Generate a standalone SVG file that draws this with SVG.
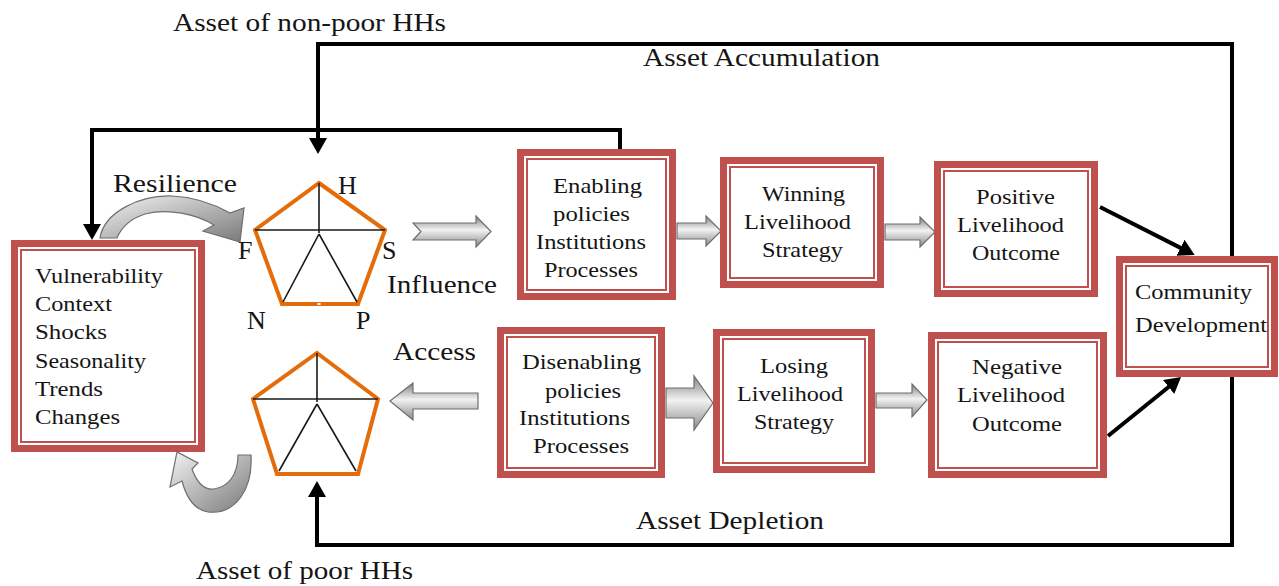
<svg xmlns="http://www.w3.org/2000/svg" width="1279" height="586" viewBox="0 0 1279 586">
  <style>
    .t { font-family: "Liberation Serif", "Times New Roman", serif; font-size: 22px; fill: #151515; }
    .big { font-family: "Liberation Serif", "Times New Roman", serif; font-size: 26px; fill: #151515; }
    .band { fill: #ffffff; stroke: #c0504d; stroke-width: 7; }
    .thin { fill: none; stroke: #c0504d; stroke-width: 2; }
    .penta { fill: #ffffff; stroke: #e46c0a; stroke-width: 4; stroke-linejoin: miter; }
    .spoke { fill: none; stroke: #1a1a1a; stroke-width: 1.6; }
    .blk { fill: url(#gv); stroke: #6e6e6e; stroke-width: 1.2; stroke-linejoin: miter; }
    .crv { fill: url(#gc); stroke: #6e6e6e; stroke-width: 1.2; stroke-linejoin: miter; }
    .wire { fill: none; stroke: #000000; stroke-width: 4; stroke-linejoin: miter; }
  </style>
  <defs>
    <linearGradient id="gv" x1="0" y1="0" x2="0" y2="1">
      <stop offset="0" stop-color="#808080"/>
      <stop offset="0.45" stop-color="#f2f2f2"/>
      <stop offset="1" stop-color="#8a8a8a"/>
    </linearGradient>
    <linearGradient id="gc" x1="0" y1="0" x2="1" y2="1">
      <stop offset="0" stop-color="#f4f4f4"/>
      <stop offset="0.55" stop-color="#b0b0b0"/>
      <stop offset="1" stop-color="#7a7a7a"/>
    </linearGradient>
    <marker id="ah" viewBox="0 0 16 18" markerWidth="16" markerHeight="18" refX="4" refY="9" orient="auto" markerUnits="userSpaceOnUse">
      <path d="M0,0 L16,9 L0,18 z" fill="#000000"/>
    </marker>
  </defs>

  <rect width="1279" height="586" fill="#ffffff"/>

  <!-- black feedback connectors -->
  <g id="connectors">
    <path class="wire" d="M620,151 V130 H92 V228" marker-end="url(#ah)"/>
    <path class="wire" d="M1232,60 V44 H318 V142" marker-end="url(#ah)"/>
    <path class="wire" d="M1232,50 V545 H317 V493" marker-end="url(#ah)"/>
    <path class="wire" d="M1100,207 L1184,249.6" marker-end="url(#ah)"/>
    <path class="wire" d="M1108,436 L1171.7,384.5" marker-end="url(#ah)"/>
  </g>

  <!-- grey block arrows -->
  <g id="block-arrows">
    <polygon class="blk" points="413,223 476,223 476,216 491,231.5 476,247 476,240 413,240 421,231.5"/>
    <polygon class="blk" points="677,223 706,223 706,216 721,231 706,246 706,239 677,239"/>
    <polygon class="blk" points="885,224 920,224 920,217 935,232 920,247 920,240 885,240"/>
    <polygon class="blk" points="478,393 413,393 413,383 390,401 413,420 413,409 478,409"/>
    <polygon class="blk" points="666,388 694,388 694,376 713,403 694,430 694,418 666,418"/>
    <polygon class="blk" points="876,393 912,393 912,384 927,400 912,417 912,408 876,408"/>
  </g>

  <!-- curved arrows -->
  <g id="resilience-arrow">
    <path class="crv" d="M100,238 C104,212 140,195 172,196 C195,197 214,204 230,213 L244,208 L240,242 L203,231 L214,225 C196,214 168,208 145,214 C130,219 121,228 117,238 Z"/>
  </g>
  <g id="recovery-arrow">
    <path class="crv" d="M238,455 L251,455 C253,490 235,515 208,512 C196,510 187,500 182,481 L170,487 L177,452 L198,463 L192,469 C197,483 205,490 214,489 C228,487 238,475 238,455 Z"/>
  </g>

  <!-- vulnerability context -->
  <g id="vulnerability">
    <rect class="band" x="14.5" y="243.5" width="187" height="205"/>
    <rect class="thin" x="21" y="250" width="174" height="192"/>
    <text class="t" x="35" y="283" textLength="128" lengthAdjust="spacingAndGlyphs">Vulnerability</text>
    <text class="t" x="35" y="311" textLength="77" lengthAdjust="spacingAndGlyphs">Context</text>
    <text class="t" x="35" y="339" textLength="72" lengthAdjust="spacingAndGlyphs">Shocks</text>
    <text class="t" x="35" y="368" textLength="111" lengthAdjust="spacingAndGlyphs">Seasonality</text>
    <text class="t" x="35" y="396" textLength="68" lengthAdjust="spacingAndGlyphs">Trends</text>
    <text class="t" x="35" y="424" textLength="85" lengthAdjust="spacingAndGlyphs">Changes</text>
  </g>

  <!-- asset pentagon of non-poor households -->
  <g id="assets-nonpoor">
    <polygon class="penta" points="319,183 385,230 358,304 282,304 255,230"/>
    <path class="spoke" d="M319,183 V233 M255,230 H385 M319,234 L283,302 M319,234 L357,302"/>
    <rect x="317.5" y="303" width="3" height="2" fill="#ffffff"/>
    <text class="big" x="338" y="194">H</text>
    <text class="big" x="238" y="259">F</text>
    <text class="big" x="382" y="259">S</text>
    <text class="big" x="247" y="329">N</text>
    <text class="big" x="356" y="329">P</text>
  </g>

  <!-- asset pentagon of poor households -->
  <g id="assets-poor">
    <polygon class="penta" points="317,353 378,399 358,474 277,474 253,399"/>
    <path class="spoke" d="M317,353 V402 M253,399 H378 M317,404 L279,471 M317,404 L356,471"/>
  </g>

  <g id="enabling">
    <rect class="band" x="520.5" y="152.5" width="152" height="144"/>
    <rect class="thin" x="527" y="159" width="139" height="131"/>
    <text class="t" x="553" y="193" textLength="89" lengthAdjust="spacingAndGlyphs">Enabling</text>
    <text class="t" x="553" y="221" textLength="77" lengthAdjust="spacingAndGlyphs">policies</text>
    <text class="t" x="536" y="249" textLength="110" lengthAdjust="spacingAndGlyphs">Institutions</text>
    <text class="t" x="544" y="277" textLength="94" lengthAdjust="spacingAndGlyphs">Processes</text>
  </g>

  <g id="winning">
    <rect class="band" x="723.5" y="160.5" width="157" height="124"/>
    <rect class="thin" x="730" y="167" width="144" height="111"/>
    <text class="t" x="762" y="201" textLength="83" lengthAdjust="spacingAndGlyphs">Winning</text>
    <text class="t" x="744" y="229" textLength="107" lengthAdjust="spacingAndGlyphs">Livelihood</text>
    <text class="t" x="762" y="257" textLength="81" lengthAdjust="spacingAndGlyphs">Strategy</text>
  </g>

  <g id="positive">
    <rect class="band" x="937.5" y="164.5" width="157" height="129"/>
    <rect class="thin" x="944" y="171" width="144" height="116"/>
    <text class="t" x="976" y="204" textLength="79" lengthAdjust="spacingAndGlyphs">Positive</text>
    <text class="t" x="957" y="232" textLength="107" lengthAdjust="spacingAndGlyphs">Livelihood</text>
    <text class="t" x="972" y="260" textLength="88" lengthAdjust="spacingAndGlyphs">Outcome</text>
  </g>

  <g id="community">
    <rect class="band" x="1119.5" y="259.5" width="155" height="114"/>
    <rect class="thin" x="1126" y="266" width="142" height="101"/>
    <text class="t" x="1135" y="299" textLength="117" lengthAdjust="spacingAndGlyphs">Community</text>
    <text class="t" x="1135" y="332" textLength="132" lengthAdjust="spacingAndGlyphs">Development</text>
  </g>

  <g id="disenabling">
    <rect class="band" x="500.5" y="330.5" width="161" height="144"/>
    <rect class="thin" x="507" y="337" width="148" height="131"/>
    <text class="t" x="522" y="369" textLength="119" lengthAdjust="spacingAndGlyphs">Disenabling</text>
    <text class="t" x="545" y="398" textLength="76" lengthAdjust="spacingAndGlyphs">policies</text>
    <text class="t" x="519" y="425" textLength="111" lengthAdjust="spacingAndGlyphs">Institutions</text>
    <text class="t" x="533" y="453" textLength="96" lengthAdjust="spacingAndGlyphs">Processes</text>
  </g>

  <g id="losing">
    <rect class="band" x="716.5" y="332.5" width="155" height="137"/>
    <rect class="thin" x="723" y="339" width="142" height="124"/>
    <text class="t" x="760" y="373" textLength="68" lengthAdjust="spacingAndGlyphs">Losing</text>
    <text class="t" x="737" y="401" textLength="106" lengthAdjust="spacingAndGlyphs">Livelihood</text>
    <text class="t" x="754" y="429" textLength="80" lengthAdjust="spacingAndGlyphs">Strategy</text>
  </g>

  <g id="negative">
    <rect class="band" x="931.5" y="335.5" width="172" height="139"/>
    <rect class="thin" x="938" y="342" width="159" height="126"/>
    <text class="t" x="972" y="374" textLength="90" lengthAdjust="spacingAndGlyphs">Negative</text>
    <text class="t" x="957" y="402" textLength="108" lengthAdjust="spacingAndGlyphs">Livelihood</text>
    <text class="t" x="972" y="431" textLength="90" lengthAdjust="spacingAndGlyphs">Outcome</text>
  </g>

  <!-- free labels -->
  <g id="labels">
    <text class="big" x="173" y="31" textLength="273" lengthAdjust="spacingAndGlyphs">Asset of non-poor HHs</text>
    <text class="big" x="643" y="66" textLength="237" lengthAdjust="spacingAndGlyphs">Asset Accumulation</text>
    <text class="big" x="113" y="192" textLength="124" lengthAdjust="spacingAndGlyphs">Resilience</text>
    <text class="big" x="387" y="293" textLength="110" lengthAdjust="spacingAndGlyphs">Influence</text>
    <text class="big" x="393" y="360" textLength="83" lengthAdjust="spacingAndGlyphs">Access</text>
    <text class="big" x="636" y="529" textLength="188" lengthAdjust="spacingAndGlyphs">Asset Depletion</text>
    <text class="big" x="196" y="579" textLength="217" lengthAdjust="spacingAndGlyphs">Asset of poor HHs</text>
  </g>
</svg>
